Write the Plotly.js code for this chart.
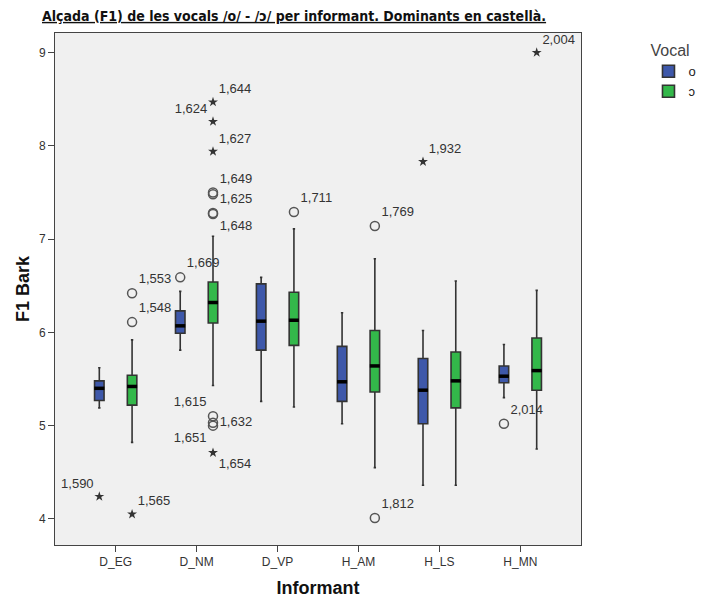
<!DOCTYPE html>
<html>
<head>
<meta charset="utf-8">
<script src="https://cdn.plot.ly/plotly-3.0.1.min.js"></script>
<style>html,body{margin:0;padding:0;background:#fff;}#chart{width:713px;height:598px;}</style>
</head>
<body>
<div id="chart"></div>
<script>
// ---- data ----
const categories = ['D_EG', 'D_NM', 'D_VP', 'H_AM', 'H_LS', 'H_MN'];
const seriesNames = ['o', 'ɔ'];

// vocal /o/
const oLow  = [5.19, 5.81, 5.26, 5.02, 4.36, 5.30];
const oQ1   = [5.27, 5.99, 5.81, 5.26, 5.02, 5.46];
const oMed  = [5.40, 6.07, 6.12, 5.47, 5.38, 5.53];
const oQ3   = [5.48, 6.23, 6.52, 5.85, 5.72, 5.64];
const oHigh = [5.62, 6.44, 6.59, 6.21, 6.02, 5.87];

// vocal /ɔ/
const cLow  = [4.82, 5.43, 5.20, 4.55, 4.36, 4.75];
const cQ1   = [5.22, 6.10, 5.86, 5.36, 5.19, 5.38];
const cMed  = [5.42, 6.32, 6.13, 5.64, 5.48, 5.59];
const cQ3   = [5.54, 6.54, 6.43, 6.02, 5.79, 5.94];
const cHigh = [5.92, 7.03, 7.11, 6.79, 6.55, 6.45];

// outliers (circles) and extremes (stars)
const oOutCat = ['D_NM', 'H_MN'];
const oOutVal = [6.59, 5.02];
const oOutLab = ['1,669', '2,014'];
const oOutPos = ['top right', 'top right'];

const oExtCat = ['D_EG', 'H_LS'];
const oExtVal = [4.24, 7.83];
const oExtLab = ['1,590', '1,932'];
const oExtPos = ['top left', 'top right'];

const cOutCat = ['D_EG', 'D_EG', 'D_NM', 'D_NM', 'D_NM', 'D_NM', 'D_NM', 'D_NM', 'D_NM', 'D_VP', 'H_AM', 'H_AM'];
const cOutVal = [6.42, 6.11, 7.50, 7.48, 7.28, 7.27, 5.10, 5.03, 5.00, 7.29, 7.14, 4.01];
const cOutLab = ['1,553', '1,548', '1,649', '', '1,625', '1,648', '1,615', '1,632', '1,651', '1,711', '1,769', '1,812'];
const cOutPos = ['top right', 'top right', 'top right', 'top right', 'top right', 'bottom right', 'top left', 'middle right', 'bottom left', 'top right', 'top right', 'top right'];

const cExtCat = ['D_EG', 'D_NM', 'D_NM', 'D_NM', 'D_NM', 'H_MN'];
const cExtVal = [4.05, 8.47, 8.26, 7.94, 4.71, 9.00];
const cExtLab = ['1,565', '1,644', '1,624', '1,627', '1,654', '2,004'];
const cExtPos = ['top right', 'top right', 'top left', 'top right', 'bottom right', 'top right'];

// ---- styles ----
const BLUE = '#3E58AA';
const GREEN = '#33B84A';
const FONT = 'Liberation Sans, Arial, sans-serif';

function boxTrace(name, q1, med, q3, lo, hi, fill, grp) {
  return {
    type: 'box', name: name, x: categories,
    q1: q1, median: med, q3: q3, lowerfence: lo, upperfence: hi,
    fillcolor: fill, line: {color: '#333', width: 1.6},
    whiskerwidth: 0.25, boxpoints: false,
    offsetgroup: grp, hoverinfo: 'skip'
  };
}
function medTrace(med, grp) {
  return {
    type: 'scatter', mode: 'markers', x: categories, y: med,
    offsetgroup: grp, showlegend: false, hoverinfo: 'skip',
    marker: {symbol: 'line-ew', size: 7.2, line: {width: 3.5, color: '#000'}}
  };
}
function ptTrace(cat, val, lab, pos, symbol, grp) {
  const star = symbol === 'star';
  return {
    type: 'scatter', mode: 'markers+text', x: cat, y: val, text: lab,
    textposition: pos, offsetgroup: grp, showlegend: false, hoverinfo: 'skip',
    cliponaxis: false,
    textfont: {family: FONT, size: 13, color: '#333'},
    marker: star ? {symbol: 'star', size: 7.5, color: '#333'}
                 : {symbol: 'circle-open', size: 9, color: '#555', line: {width: 1.5}}
  };
}

const data = [
  boxTrace(seriesNames[0], oQ1, oMed, oQ3, oLow, oHigh, BLUE, 'o'),
  boxTrace(seriesNames[1], cQ1, cMed, cQ3, cLow, cHigh, GREEN, 'c'),
  medTrace(oMed, 'o'),
  medTrace(cMed, 'c'),
  ptTrace(oOutCat, oOutVal, oOutLab, oOutPos, 'circle', 'o'),
  ptTrace(oExtCat, oExtVal, oExtLab, oExtPos, 'star', 'o'),
  ptTrace(cOutCat, cOutVal, cOutLab, cOutPos, 'circle', 'c'),
  ptTrace(cExtCat, cExtVal, cExtLab, cExtPos, 'star', 'c')
];

const layout = {
  width: 713, height: 598,
  margin: {l: 55, r: 128, t: 33, b: 53},
  paper_bgcolor: '#ffffff', plot_bgcolor: '#F0F0F0',
  font: {family: FONT, color: '#333'},
  hovermode: false,
  boxmode: 'group', boxgap: 0.19, boxgroupgap: 0.71,
  scattermode: 'group', scattergap: 0.19,
  title: {
    text: '<u>Alçada (F1) de les vocals /o/ - /ɔ/ per informant. Dominants en castellà.</u>',
    font: {family: 'Liberation Sans Narrow, Arial Narrow, DejaVu Sans Condensed, sans-serif', size: 14, weight: 'bold', color: '#111'},
    xref: 'container', x: 42 / 713, xanchor: 'left',
    yref: 'container', y: 1 - 16 / 598, yanchor: 'middle'
  },
  xaxis: {
    type: 'category', range: [-0.75, 5.75],
    showline: true, linecolor: '#444', linewidth: 1, mirror: true,
    ticks: 'outside', ticklen: 6, tickcolor: '#444',
    tickfont: {size: 12, color: '#333'},
    showgrid: false, zeroline: false, automargin: false,
    title: {text: '<b>Informant</b>', font: {size: 18, color: '#111'}, standoff: 12}
  },
  yaxis: {
    range: [3.72, 9.21], tick0: 4, dtick: 1,
    showline: true, linecolor: '#444', linewidth: 1, mirror: true,
    ticks: 'outside', ticklen: 6, tickcolor: '#444',
    tickfont: {size: 12, color: '#333'},
    showgrid: false, zeroline: false, automargin: false,
    title: {text: '<b>F1 Bark</b>', font: {size: 18, color: '#111'}, standoff: 4}
  },
  showlegend: true,
  legend: {
    title: {text: 'Vocal', font: {size: 16, color: '#444'}},
    x: (653 - 55) / 530, xanchor: 'left', y: 0.995, yanchor: 'top',
    font: {size: 13, color: '#222'}, bgcolor: 'rgba(0,0,0,0)',
    tracegroupgap: 0
  }
};

Plotly.newPlot('chart', data, layout, {staticPlot: true, displayModeBar: false});
</script>
</body>
</html>
